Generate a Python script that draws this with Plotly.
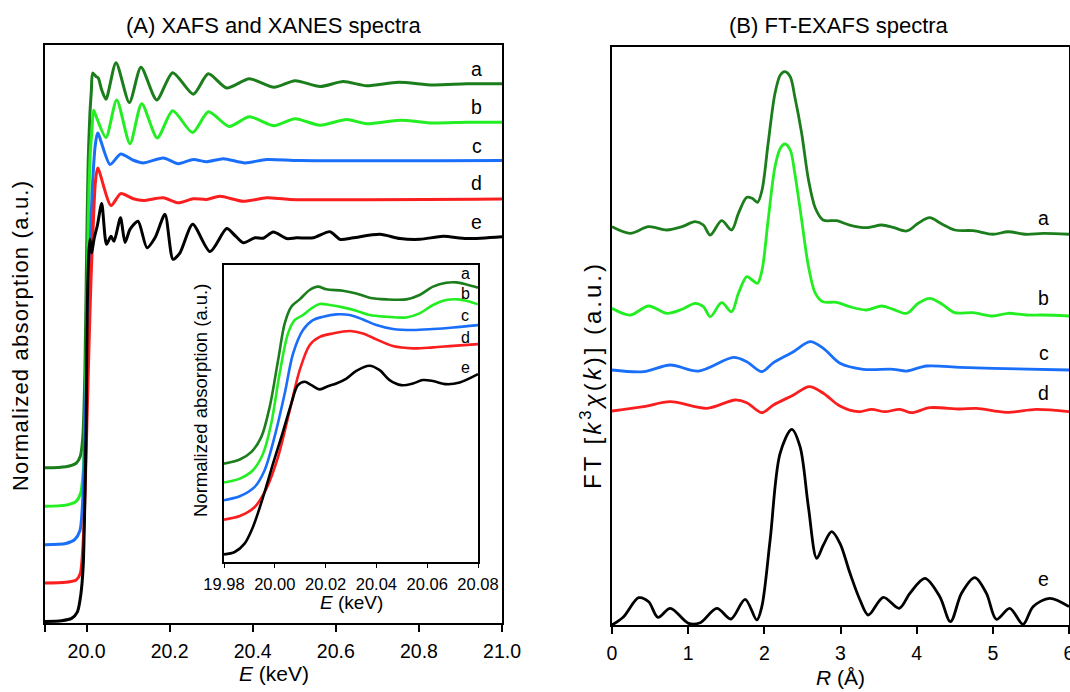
import plotly.graph_objects as go

# ---------------- Panel A: XAFS (normalized, stacked by offsets) ----------------
E_a = [19.90, 19.95, 19.975, 19.985, 19.991, 19.996, 20.000, 20.004, 20.008, 20.0115, 20.0148,
       20.0228, 20.0283, 20.0365, 20.0468, 20.0709, 20.1030, 20.1310, 20.1689, 20.2074, 20.2570,
       20.2930, 20.3374, 20.3918, 20.4512, 20.5018, 20.5620, 20.6180, 20.6740, 20.7505, 20.8340,
       20.9150, 21.0]
mu_a = [0.000, 0.003, 0.012, 0.030, 0.080, 0.250, 0.550, 0.800, 0.920, 0.980, 1.028,
        1.019, 1.015, 0.984, 0.960, 1.055, 0.951, 1.043, 0.958, 1.029, 0.973,
        1.026, 0.989, 1.013, 0.991, 1.008, 0.993, 1.006, 0.995, 1.004, 0.997,
        1.000, 1.000]

E_b = [19.90, 19.95, 19.975, 19.986, 19.992, 19.997, 20.001, 20.005, 20.009, 20.013, 20.0170,
       20.0245, 20.0468, 20.0726, 20.1046, 20.1328, 20.1703, 20.2074, 20.2550, 20.2935, 20.3430,
       20.3918, 20.4512, 20.5018, 20.5620, 20.6262, 20.6743, 20.7545, 20.8339, 20.9150, 21.0]
mu_b = [0.000, 0.003, 0.013, 0.035, 0.090, 0.250, 0.520, 0.780, 0.920, 0.980, 1.031,
        1.011, 0.960, 1.058, 0.944, 1.048, 0.959, 1.030, 0.973, 1.027, 0.989,
        1.014, 0.991, 1.009, 0.992, 1.007, 0.996, 1.005, 0.998, 1.000, 1.000]

E_c = [19.90, 19.95, 19.972, 19.984, 19.990, 19.995, 20.000, 20.005, 20.010, 20.015, 20.021,
       20.0268, 20.0565, 20.0822, 20.1125, 20.1366, 20.1847, 20.2208, 20.2570, 20.2892, 20.3292,
       20.3814, 20.4336, 20.5138, 21.0]
mu_c = [0.000, 0.003, 0.014, 0.036, 0.100, 0.250, 0.450, 0.650, 0.820, 0.950, 1.040,
        1.072, 0.990, 1.017, 1.001, 0.994, 1.007, 0.992, 1.003, 0.997, 1.005,
        0.994, 1.003, 1.000, 1.000]

E_d = [19.90, 19.95, 19.975, 19.985, 19.991, 19.996, 20.001, 20.006, 20.011, 20.016, 20.021,
       20.0268, 20.0589, 20.0822, 20.1125, 20.1366, 20.1847, 20.2208, 20.2570, 20.2892, 20.3210,
       20.3773, 20.4336, 20.4897, 21.0]
mu_d = [0.000, 0.002, 0.008, 0.025, 0.090, 0.220, 0.420, 0.620, 0.800, 0.930, 1.040,
        1.081, 0.983, 1.014, 1.0005, 0.996, 1.003, 0.990, 1.0005, 0.999, 1.007,
        0.994, 1.003, 0.999, 1.000]

E_e = [19.90, 19.94, 19.964, 19.978, 19.986, 19.992, 19.996, 19.999, 20.0015, 20.005,
       20.0083, 20.0124, 20.0179, 20.026, 20.0365, 20.048, 20.0589, 20.0661, 20.0817, 20.0926,
       20.1046, 20.1239, 20.1455, 20.1648, 20.1888, 20.2081, 20.225, 20.2555, 20.2972, 20.3374,
       20.3573, 20.3773, 20.4055, 20.4255, 20.4495, 20.4818, 20.5058, 20.5458, 20.586, 20.61,
       20.642, 20.7063, 20.7545, 20.8026, 20.8587, 20.915, 21.0]
mu_e = [0.000, 0.002, 0.008, 0.025, 0.068, 0.146, 0.320, 0.500, 0.800, 0.950,
        0.995, 0.960, 0.995, 1.031, 1.088, 0.982, 1.003, 0.990, 1.051, 0.987,
        1.021, 1.042, 0.973, 0.999, 1.060, 0.943, 0.960, 1.034, 0.963, 1.023,
        1.005, 0.986, 0.999, 0.998, 1.014, 0.997, 0.999, 0.999, 1.015, 0.995,
        0.999, 1.008, 0.997, 0.995, 1.003, 0.997, 1.002]

offsets_A = [0.4, 0.3, 0.2, 0.1, 0.0]

# ---------------- Inset: XANES (stacked values, a.u.) ----------------
Ei_a = [19.98, 19.9862, 19.9908, 19.9947, 19.998, 20.0013, 20.0039, 20.0065, 20.0098, 20.0137,
        20.017, 20.0203, 20.0268, 20.0321, 20.0373, 20.0439, 20.0518, 20.057, 20.0623, 20.0675,
        20.0715, 20.0754, 20.08]
xi_a = [0.533, 0.557, 0.602, 0.690, 0.867, 1.141, 1.357, 1.455, 1.498, 1.553,
        1.573, 1.557, 1.549, 1.533, 1.508, 1.498, 1.498, 1.524, 1.573, 1.596,
        1.598, 1.586, 1.567]
Ei_b = [19.98, 19.9862, 19.9914, 19.9954, 19.9986, 20.0019, 20.0052, 20.0078, 20.0111, 20.0144,
        20.0177, 20.0216, 20.0268, 20.0321, 20.0373, 20.0439, 20.0518, 20.057, 20.0623, 20.0675,
        20.0721, 20.0754, 20.08]
xi_b = [0.422, 0.445, 0.494, 0.592, 0.769, 1.063, 1.298, 1.376, 1.406, 1.445,
        1.471, 1.465, 1.451, 1.431, 1.406, 1.396, 1.392, 1.416, 1.465, 1.494,
        1.498, 1.490, 1.469]
Ei_c = [19.98, 19.9862, 19.9921, 19.996, 19.9999, 20.0039, 20.0072, 20.0111, 20.015, 20.019,
        20.0242, 20.0295, 20.0347, 20.04, 20.0465, 20.0544, 20.0623, 20.0702, 20.08]
xi_c = [0.318, 0.341, 0.396, 0.494, 0.690, 0.945, 1.180, 1.318, 1.376, 1.396,
        1.410, 1.406, 1.380, 1.347, 1.324, 1.318, 1.324, 1.333, 1.347]
Ei_d = [19.98, 19.9862, 19.9921, 19.9967, 20.0013, 20.0059, 20.0098, 20.0137, 20.0177, 20.0229,
        20.0295, 20.0347, 20.04, 20.0465, 20.0544, 20.0623, 20.0702, 20.08]
xi_d = [0.204, 0.225, 0.278, 0.386, 0.573, 0.847, 1.082, 1.229, 1.278, 1.298,
        1.312, 1.298, 1.263, 1.224, 1.210, 1.216, 1.225, 1.235]
Ei_e = [19.98, 19.9842, 19.9881, 19.9914, 19.9954, 19.9993, 20.0032, 20.0065, 20.0091, 20.0118,
        20.0144, 20.0177, 20.0209, 20.0242, 20.0282, 20.0321, 20.0373, 20.0413, 20.0452, 20.0498,
        20.0544, 20.0583, 20.0623, 20.0675, 20.0728, 20.08]
xi_e = [0.000, 0.014, 0.063, 0.161, 0.337, 0.533, 0.720, 0.886, 0.994, 1.014,
        0.994, 0.969, 0.988, 1.004, 1.033, 1.078, 1.108, 1.082, 1.024, 0.994,
        1.004, 1.024, 1.018, 1.000, 1.010, 1.059]

# ---------------- Panel B: FT-EXAFS (stacked values, a.u.) ----------------
R_ab = [0.00, 0.24, 0.48, 0.72, 0.92, 1.09, 1.20, 1.29, 1.44, 1.57, 1.66, 1.77, 1.84, 1.91, 1.97,
        2.05, 2.14, 2.21, 2.27, 2.34, 2.40, 2.49, 2.58, 2.67, 2.77, 2.95, 3.12, 3.34, 3.54, 3.69,
        3.87, 4.02, 4.17, 4.33, 4.50, 4.74, 5.00, 5.20, 5.44, 5.66, 6.00]
ft_a = [6.891, 6.777, 6.891, 6.834, 6.891, 6.978, 6.920, 6.747, 6.995, 6.834, 7.123, 7.400, 7.382,
        7.313, 7.526, 8.334, 9.199, 9.516, 9.573, 9.486, 9.140, 8.507, 7.699, 7.209, 7.007, 6.995,
        6.920, 6.874, 6.920, 6.880, 6.817, 6.950, 7.047, 6.938, 6.834, 6.822, 6.760, 6.804, 6.760,
        6.777, 6.760]
ft_b = [5.479, 5.363, 5.519, 5.393, 5.462, 5.566, 5.507, 5.334, 5.576, 5.420, 5.739, 6.026, 5.969,
        5.912, 6.142, 7.007, 7.929, 8.247, 8.322, 8.218, 7.815, 7.007, 6.199, 5.739, 5.593, 5.583,
        5.507, 5.450, 5.519, 5.462, 5.393, 5.566, 5.652, 5.554, 5.403, 5.403, 5.346, 5.393, 5.363,
        5.363, 5.346]
R_c = [0.0, 0.415, 0.765, 1.136, 1.595, 1.770, 1.967, 2.119, 2.382, 2.600, 2.775, 2.993, 3.299,
       3.693, 3.867, 4.130, 4.567, 5.004, 6.0]
ft_c = [4.412, 4.383, 4.498, 4.394, 4.631, 4.555, 4.383, 4.538, 4.728, 4.901, 4.787, 4.528, 4.424,
        4.424, 4.394, 4.481, 4.458, 4.441, 4.412]
R_d = [0.0, 0.415, 0.765, 1.245, 1.617, 1.770, 1.967, 2.119, 2.382, 2.591, 2.775, 2.993, 3.234,
       3.409, 3.583, 3.780, 3.933, 4.173, 4.567, 4.785, 5.178, 5.572, 6.0]
ft_d = [3.702, 3.777, 3.863, 3.749, 3.893, 3.846, 3.673, 3.806, 3.979, 4.123, 4.009, 3.789, 3.690,
        3.732, 3.690, 3.732, 3.673, 3.760, 3.737, 3.749, 3.680, 3.732, 3.690]
R_e = [0.0, 0.153, 0.350, 0.481, 0.603, 0.765, 1.005, 1.158, 1.377, 1.560, 1.748, 1.901, 1.967,
       2.076, 2.207, 2.360, 2.469, 2.578, 2.688, 2.775, 2.884, 2.993, 3.125, 3.256, 3.365, 3.562,
       3.771, 3.911, 4.108, 4.304, 4.444, 4.589, 4.763, 4.916, 5.047, 5.222, 5.397, 5.528, 5.747,
       6.0]
ft_e = [0.000, 0.144, 0.472, 0.403, 0.133, 0.289, 0.029, 0.040, 0.289, 0.104, 0.445, 0.087, 0.317,
        1.471, 2.971, 3.386, 3.085, 2.047, 1.154, 1.384, 1.614, 1.413, 0.894, 0.433, 0.173, 0.479,
        0.289, 0.548, 0.808, 0.490, 0.057, 0.548, 0.818, 0.548, 0.099, 0.289, 0.012, 0.317, 0.462,
        0.317]

labels = ["a", "b", "c", "d", "e"]
colors = ["#1b7d1b", "#22ee22", "#1a6ffa", "#fa1e1e", "#000000"]

ticks_A = [20.0, 20.2, 20.4, 20.6, 20.8, 21.0]
minor_A = [19.9]
ticks_inset = [19.98, 20.00, 20.02, 20.04, 20.06, 20.08]
ticks_B = [0, 1, 2, 3, 4, 5, 6]

FONT = "Liberation Sans, Arial, sans-serif"
W, H = 1070, 692

fig = go.Figure()

main_E = [E_a, E_b, E_c, E_d, E_e]
main_mu = [mu_a, mu_b, mu_c, mu_d, mu_e]
for lab, col, xs, ys, off in zip(labels, colors, main_E, main_mu, offsets_A):
    fig.add_trace(go.Scatter(x=xs, y=[v + off for v in ys], mode="lines",
                             line=dict(color=col, width=3, shape="spline", smoothing=0.7),
                             xaxis="x", yaxis="y", showlegend=False, name=lab))

inset_E = [Ei_a, Ei_b, Ei_c, Ei_d, Ei_e]
inset_v = [xi_a, xi_b, xi_c, xi_d, xi_e]
for lab, col, xs, ys in zip(labels, colors, inset_E, inset_v):
    fig.add_trace(go.Scatter(x=xs, y=ys, mode="lines",
                             line=dict(color=col, width=2.6, shape="spline", smoothing=0.9),
                             xaxis="x2", yaxis="y2", showlegend=False, name=lab))

ft_R = [R_ab, R_ab, R_c, R_d, R_e]
ft_v = [ft_a, ft_b, ft_c, ft_d, ft_e]
for lab, col, xs, ys in zip(labels, colors, ft_R, ft_v):
    fig.add_trace(go.Scatter(x=xs, y=ys, mode="lines",
                             line=dict(color=col, width=2.8, shape="spline", smoothing=0.9),
                             xaxis="x3", yaxis="y3", showlegend=False, name=lab))

def px_x(p):
    return p / W

def px_y(p):
    return 1 - p / H

axis_common = dict(showgrid=False, zeroline=False, showline=True, linecolor="black",
                   linewidth=1.6, mirror=True, automargin=False)

fig.update_layout(
    template="none",
    width=W, height=H, margin=dict(l=0, r=0, t=0, b=0, pad=0), autosize=False,
    paper_bgcolor="white", plot_bgcolor="white",
    font=dict(family=FONT, color="black"),
    xaxis=dict(domain=[px_x(45), px_x(502)], range=[19.9, 21.0], anchor="y",
               tickmode="array", tickvals=ticks_A, tickformat=".1f",
               ticks="outside", ticklen=7, tickwidth=1.6, tickcolor="black",
               minor=dict(tickmode="array", tickvals=minor_A, ticks="outside", ticklen=7,
                          tickwidth=1.6, tickcolor="black", showgrid=False),
               tickfont=dict(size=19.5), ticklabelstandoff=3, ticklabeloverflow="allow",
               **axis_common),
    yaxis=dict(domain=[px_y(623), px_y(45)], range=[-0.004, 1.501], anchor="x",
               showticklabels=False, ticks="", **axis_common),
    xaxis2=dict(domain=[px_x(224), px_x(478)], range=[19.98, 20.08], anchor="y2",
                tickmode="array", tickvals=ticks_inset, tickformat=".2f",
                ticks="outside", ticklen=4, tickwidth=1.4, tickcolor="black",
                tickfont=dict(size=16.5), ticklabelstandoff=2, ticklabeloverflow="allow",
                **axis_common),
    yaxis2=dict(domain=[px_y(562), px_y(265)], range=[-0.045, 1.70], anchor="x2",
                showticklabels=False, ticks="", **axis_common),
    xaxis3=dict(domain=[px_x(612), px_x(1069)], range=[0, 6], anchor="y3",
                tickmode="array", tickvals=ticks_B,
                ticks="outside", ticklen=7, tickwidth=1.6, tickcolor="black",
                tickfont=dict(size=19.5), ticklabelstandoff=3, ticklabeloverflow="allow",
                **axis_common),
    yaxis3=dict(domain=[px_y(625), px_y(47)], range=[0, 10], anchor="x3",
                showticklabels=False, ticks="", **axis_common),
)

ann = []
# Titles
ann.append(dict(text="(A) XAFS and XANES spectra", x=px_x(273.5), y=px_y(25), xref="paper", yref="paper",
                showarrow=False, font=dict(size=22), xanchor="center", yanchor="middle"))
ann.append(dict(text="(B) FT-EXAFS spectra", x=px_x(839), y=px_y(25), xref="paper", yref="paper",
                showarrow=False, font=dict(size=22), xanchor="center", yanchor="middle"))
# Axis titles
ann.append(dict(text="<i>E</i> (keV)", x=px_x(273.5), y=px_y(673), xref="paper", yref="paper",
                showarrow=False, font=dict(size=21), xanchor="center", yanchor="middle"))
ann.append(dict(text="<i>R</i> (Å)", x=px_x(840), y=px_y(677), xref="paper", yref="paper",
                showarrow=False, font=dict(size=21), xanchor="center", yanchor="middle"))
ann.append(dict(text='<span style="letter-spacing:1.2px">Normalized absorption (a.u.)</span>',
                x=px_x(20), y=px_y(336), xref="paper", yref="paper",
                showarrow=False, font=dict(size=22), textangle=-90, xanchor="center", yanchor="middle"))
ann.append(dict(text='<span style="letter-spacing:3px">FT [<i>k</i><sup>3</sup><i>χ</i>(<i>k</i>)] (a.u.)</span>',
                x=px_x(591), y=px_y(375),
                xref="paper", yref="paper", showarrow=False, font=dict(size=24), textangle=-90,
                xanchor="center", yanchor="middle"))
ann.append(dict(text="<i>E</i> (keV)", x=px_x(351), y=px_y(602), xref="paper", yref="paper",
                showarrow=False, font=dict(size=19), xanchor="center", yanchor="middle"))
ann.append(dict(text="Normalized absorption (a.u.)", x=px_x(200), y=px_y(401), xref="paper", yref="paper",
                showarrow=False, font=dict(size=18.5), textangle=-90, xanchor="center", yanchor="middle"))

# Curve labels
labA_y = [1.438, 1.339, 1.239, 1.142, 1.040]
for lab, yy in zip(labels, labA_y):
    ann.append(dict(text=lab, x=20.939, y=yy, xref="x", yref="y", showarrow=False,
                    font=dict(size=19.5), xanchor="center", yanchor="middle"))
labI_y = [1.651, 1.533, 1.406, 1.275, 1.098]
for lab, yy in zip(labels, labI_y):
    ann.append(dict(text=lab, x=20.0749, y=yy, xref="x2", yref="y2", showarrow=False,
                    font=dict(size=16), xanchor="center", yanchor="middle"))
labB_y = [7.036, 5.663, 4.70, 4.02, 0.79]
for lab, yy in zip(labels, labB_y):
    ann.append(dict(text=lab, x=5.668, y=yy, xref="x3", yref="y3", showarrow=False,
                    font=dict(size=19.5), xanchor="center", yanchor="middle"))

fig.update_layout(annotations=ann)

# page without default body margin/scrollbars, so the 1070x692 figure fills the window exactly
page_js = "document.body.style.margin='0px'; document.body.style.overflow='hidden';"
fig.write_html("out.html", post_script=page_js, config={"displayModeBar": False})
